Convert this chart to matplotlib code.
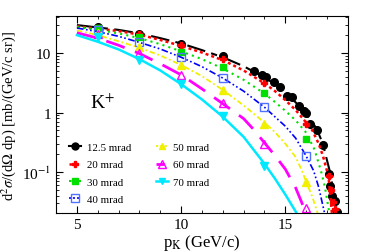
import matplotlib
matplotlib.use("Agg")
import matplotlib.pyplot as plt
from matplotlib.lines import Line2D
from matplotlib.ticker import MultipleLocator, LogLocator, NullFormatter

plt.rcParams["font.family"] = ["Liberation Serif", "DejaVu Serif"]
plt.rcParams["mathtext.fontset"] = "stix"

# fitted curves, p in GeV/c, cross section in mb/(GeV/c sr)
fit_p_125 = [5, 6, 7, 8, 9, 10, 11, 12, 13, 14, 14.5, 15, 15.5, 16, 16.5, 16.8, 17.0, 17.13, 17.3, 17.45]
fit_v_125 = [29.5, 26.9, 24.5, 21.4, 17.8, 14.5, 11.2, 8.5, 6.0, 3.9, 3.0, 2.14, 1.48, 0.95, 0.54, 0.30, 0.158, 0.105, 0.050, 0.020]
fit_p_20 = [5, 6, 7, 8, 9, 10, 11, 12, 13, 14, 14.5, 15, 15.5, 16, 16.3, 16.6, 16.8, 17.0, 17.1, 17.24]
fit_v_20 = [28.2, 25.7, 23.4, 20.4, 16.6, 13.2, 10.2, 7.6, 5.1, 3.1, 2.3, 1.62, 1.10, 0.68, 0.50, 0.30, 0.19, 0.105, 0.068, 0.020]
fit_p_30 = [5, 6, 7, 8, 9, 10, 11, 12, 13, 14, 14.5, 15, 15.5, 16, 16.4, 16.71, 16.9, 17.12]
fit_v_30 = [27.5, 24.5, 21.4, 17.8, 14.1, 10.7, 7.9, 5.5, 3.55, 2.09, 1.51, 1.07, 0.74, 0.46, 0.24, 0.105, 0.056, 0.020]
fit_p_40 = [5, 6, 7, 8, 9, 10, 11, 12, 13, 14, 14.5, 15, 15.5, 16, 16.36, 16.6, 16.89]
fit_v_40 = [26.3, 22.9, 19.1, 15.1, 11.7, 8.5, 5.9, 3.8, 2.29, 1.23, 0.85, 0.59, 0.37, 0.186, 0.105, 0.056, 0.020]
fit_p_50 = [5, 6, 7, 8, 9, 10, 11, 12, 13, 14, 14.5, 15, 15.5, 15.8, 16, 16.3, 16.56]
fit_v_50 = [24.0, 20.0, 15.8, 12.3, 9.1, 6.3, 4.1, 2.4, 1.32, 0.68, 0.47, 0.30, 0.178, 0.105, 0.069, 0.038, 0.020]
fit_p_60 = [5, 6, 7, 8, 9, 10, 11, 12, 13, 13.5, 14, 14.5, 15, 15.5, 16.01]
fit_v_60 = [21.9, 17.8, 13.5, 9.8, 6.6, 4.3, 2.5, 1.41, 0.79, 0.51, 0.31, 0.19, 0.112, 0.054, 0.020]
fit_p_70 = [5, 6, 7, 8, 9, 10, 11, 12, 13, 14, 14.5, 15, 15.56]
fit_v_70 = [20.0, 15.5, 11.5, 7.9, 5.1, 3.0, 1.66, 0.85, 0.39, 0.138, 0.078, 0.042, 0.020]

# measured points
pts_p_125 = [6, 8, 10, 12, 13.48, 13.88, 14.07, 14.44, 14.73, 15.08, 15.32, 15.64, 15.88, 16.0,
             16.2, 16.52, 16.81, 17.08, 17.16, 17.24, 17.4, 17.48]
pts_v_125 = [27, 21, 14, 8.8, 5.05, 4.27, 3.9, 3.2, 2.65, 1.92, 1.85, 1.27, 1.07, 0.98,
             0.65, 0.51, 0.29, 0.093, 0.059, 0.040, 0.033, 0.021]
pts_p_20 = [6, 8, 10, 12, 14, 16, 17.1, 17.2, 17.3, 17.4]
pts_v_20 = [26, 20.5, 13.5, 7.9, 3.1, 0.64, 0.085, 0.05, 0.032, 0.024]
pts_p_30 = [6, 8, 10, 12, 14, 16]
pts_v_30 = [26, 18.4, 10.6, 5.75, 2.1, 0.36]
pts_p_40 = [6, 8, 10, 12, 14, 16]
pts_v_40 = [24.5, 15.1, 8.5, 3.8, 1.22, 0.188]
pts_p_50 = [6, 8, 10, 12, 14, 16]
pts_v_50 = [22, 12.4, 6.3, 2.4, 0.64, 0.067]
pts_p_60 = [6, 8, 10, 12, 14, 16]
pts_v_60 = [21, 9.9, 4.3, 1.43, 0.295, 0.025]
pts_p_70 = [6, 8, 10, 12, 14]
pts_v_70 = [18.5, 7.7, 3.0, 0.86, 0.125]

labels = ["12.5 mrad", "20 mrad", "30 mrad", "40 mrad", "50 mrad", "60 mrad", "70 mrad"]

series = [
    # label, fit p, fit v, pts p, pts v, color, dashes, lw, marker, ms, face
    (labels[0], fit_p_125, fit_v_125, pts_p_125, pts_v_125, "black", (9, 3, 3, 3), 1.5, "o", 5.5, "black"),
    (labels[1], fit_p_20, fit_v_20, pts_p_20, pts_v_20, "#ff0000", (1.2, 1.2), 1.8, "P", 5, "#ff0000"),
    (labels[2], fit_p_30, fit_v_30, pts_p_30, pts_v_30, "#00e000", (1, 2), 1.5, "s", 5, "#00e000"),
    (labels[3], fit_p_40, fit_v_40, pts_p_40, pts_v_40, "#0000ff", (4, 1.5, 1, 1.5, 1, 1.5), 1.2, "s", 6, "none"),
    (labels[4], fit_p_50, fit_v_50, pts_p_50, pts_v_50, "#f0f000", (3, 1.5, 1, 1.5), 1.3, "^", 5.5, "#f0f000"),
    (labels[5], fit_p_60, fit_v_60, pts_p_60, pts_v_60, "#ff00ff", (7, 4), 2.0, "^", 6, "none"),
    (labels[6], fit_p_70, fit_v_70, pts_p_70, pts_v_70, "#00e8ff", None, 1.8, "v", 5.5, "#00e8ff"),
]

fig = plt.figure(figsize=(3.74, 2.53), dpi=100)
ax = fig.add_axes([0.150, 0.154, 0.780, 0.779])

handles = []
for label, fp, fv, pp, pv, color, dashes, lw, marker, ms, face in series:
    line, = ax.plot(fp, fv, color=color, lw=lw)
    if dashes is not None:
        line.set_dashes(dashes)
    edge = "#5070ff" if label == "40 mrad" else color
    ax.plot(pp, pv, ls="none", marker=marker, ms=ms, mfc=face, mec=edge, mew=1.0)
    h = Line2D([], [], color=color, lw=lw, marker=marker, ms=ms - 0.5, mfc=face, mec=edge, mew=1.0)
    if dashes is not None and label != "12.5 mrad":
        h.set_dashes((1.2, 1.2) if label != "60 mrad" else (3, 1.5))
    handles.append(h)

ax.set_yscale("log")
ax.set_xlim(4, 18)
ax.set_ylim(0.0205, 42)
ax.xaxis.set_major_locator(MultipleLocator(5))
ax.xaxis.set_minor_locator(MultipleLocator(1))
ax.set_yticks([0.1, 1, 10])
ax.set_yticklabels([r"10$^{-1}$", "1", "10"])
ax.yaxis.set_minor_locator(LogLocator(base=10, subs=range(2, 10)))
ax.yaxis.set_minor_formatter(NullFormatter())
ax.tick_params(which="both", direction="in", top=True, right=True, labelsize=11)
ax.tick_params(which="major", length=5)
ax.tick_params(which="minor", length=2.5)

ax.set_xlabel(r"p$_{\rm K}$ (GeV/c)", fontsize=12, labelpad=1)
ax.set_ylabel(r"d$^2\sigma$/(d$\Omega$ dp) [mb/(GeV/c sr)]", fontsize=10.5, labelpad=3)

ax.text(0.115, 0.535, r"K$^{+}$", transform=ax.transAxes, fontsize=14)

ax.legend(handles=handles, labels=labels, loc="lower left", ncol=2, frameon=False,
          fontsize=7.8, handlelength=1.1, handletextpad=0.5, columnspacing=2.3,
          labelspacing=0.72, borderpad=0, borderaxespad=0,
          bbox_to_anchor=(0.045, 0.045))

fig.savefig("out.png", dpi=100)
